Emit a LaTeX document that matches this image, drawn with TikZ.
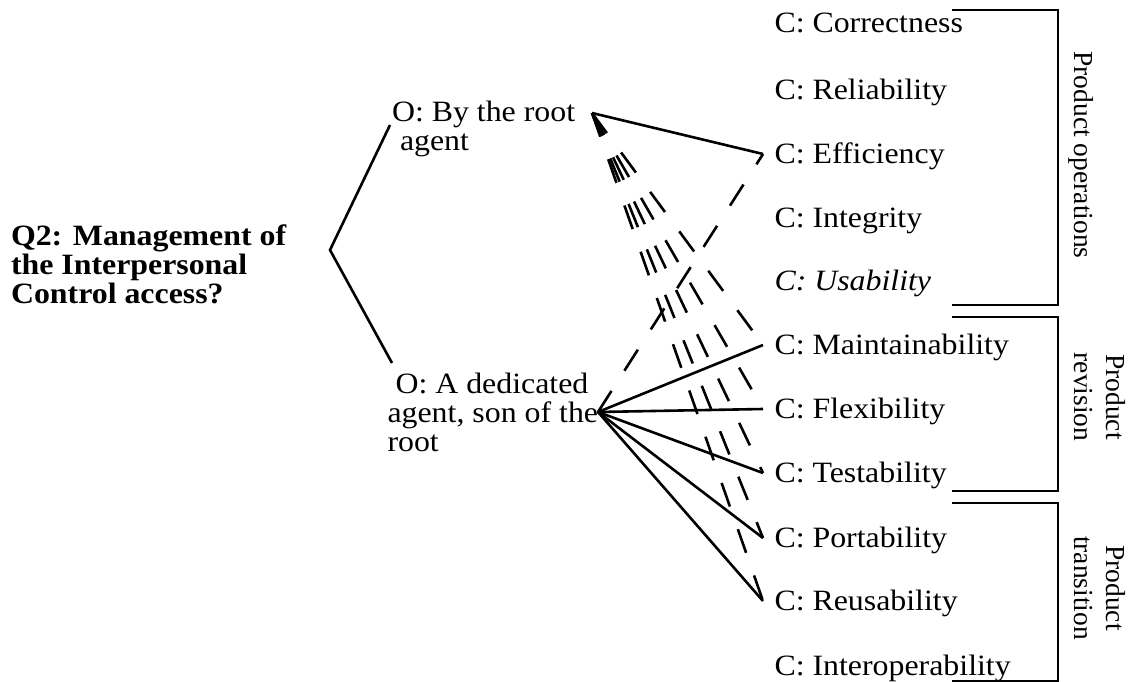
\documentclass[tikz,border=0pt]{standalone}
\usepackage{fontspec}
\setmainfont{Liberation Serif}[FakeStretch=1.08]
\newfontfamily\rotfont{Liberation Serif}
\begin{document}
\begin{tikzpicture}[x=1pt,y=-1pt,
  txt/.style={inner sep=0pt, outer sep=0pt, font=\fontsize{29.5}{29}\selectfont, align=left},
  crit/.style={inner xsep=11.5pt, inner ysep=0pt, outer sep=0pt, text height=18pt, text depth=0pt,
               font=\fontsize{29.5}{29}\selectfont, anchor=base west},
  lab/.style={inner sep=0pt, outer sep=0pt, rotate=-90, font=\rotfont\fontsize{27.5}{32}\selectfont, align=center},
  conn/.style={line width=2.6pt},
  neg/.style={line width=2.6pt, dash pattern=on 25pt off 24pt},
  brk/.style={line width=2.6pt}]
\useasboundingbox (0,0) rectangle (1134,682);

% question (anchor at the baseline of the last line)
\node[txt, font=\bfseries\fontsize{29.5}{29}\selectfont, anchor=base west] (q) at (11,303)
  {Q2: Management of\\the Interpersonal\\Control access?};

% options
\node[txt, anchor=base west] (o1) at (392,150.7) {O: By the root\\\hspace*{8pt}agent};
\node[txt, anchor=base west] (o2) at (387.5,451.3) {\hspace*{8pt}O: A dedicated\\agent, son of the\\root};

% criteria
\node[crit] (c1)  at (763,33)  {C: Correctness};
\node[crit] (c2)  at (763,100) {C: Reliability};
\node[crit] (c3)  at (763,163) {C: Efficiency};
\node[crit] (c4)  at (763,227) {C: Integrity};
\node[crit] (c5)  at (763,290) {\itshape C: Usability};
\node[crit] (c6)  at (763,354) {C: Maintainability};
\node[crit] (c7)  at (763,418) {C: Flexibility};
\node[crit] (c8)  at (763,482) {C: Testability};
\node[crit] (c9)  at (763,547) {C: Portability};
\node[crit] (c10) at (763,610) {C: Reusability};
\node[crit] (c11) at (763,675) {C: Interoperability};

% group labels
\node[lab, anchor=base] (g1) at (1074,155) {Product operations};
\node[lab] (g2) at (1100,397) {Product\\revision};
\node[lab] (g3) at (1100,588) {Product\\transition};

% attachment points
\coordinate (qj)  at (330,250);
\coordinate (o1q) at (390,125);
\coordinate (o2q) at (392,363);
\coordinate (o1c) at (592,113);
\coordinate (o2c) at (598,412);

% question to options
\draw[conn] (o1q) -- (qj) -- (o2q);

% positive assessments
\draw[conn] (o1c) -- (c3.west);
\foreach \c in {c6,c7,c8,c9,c10} \draw[conn] (o2c) -- (\c.west);

% negative assessments
\draw[neg] (o2c) -- (c3.west);
\foreach \c in {c6,c7,c8,c9,c10} \draw[neg] (o1c) -- (\c.west);

% brackets
\draw[brk] (952,10)  -- (1058,10)  -- (1058,305) -- (952,305);
\draw[brk] (952,317) -- (1058,317) -- (1058,491) -- (952,491);
\draw[brk] (952,503) -- (1058,503) -- (1058,681) -- (952,681);
\end{tikzpicture}
\end{document}
